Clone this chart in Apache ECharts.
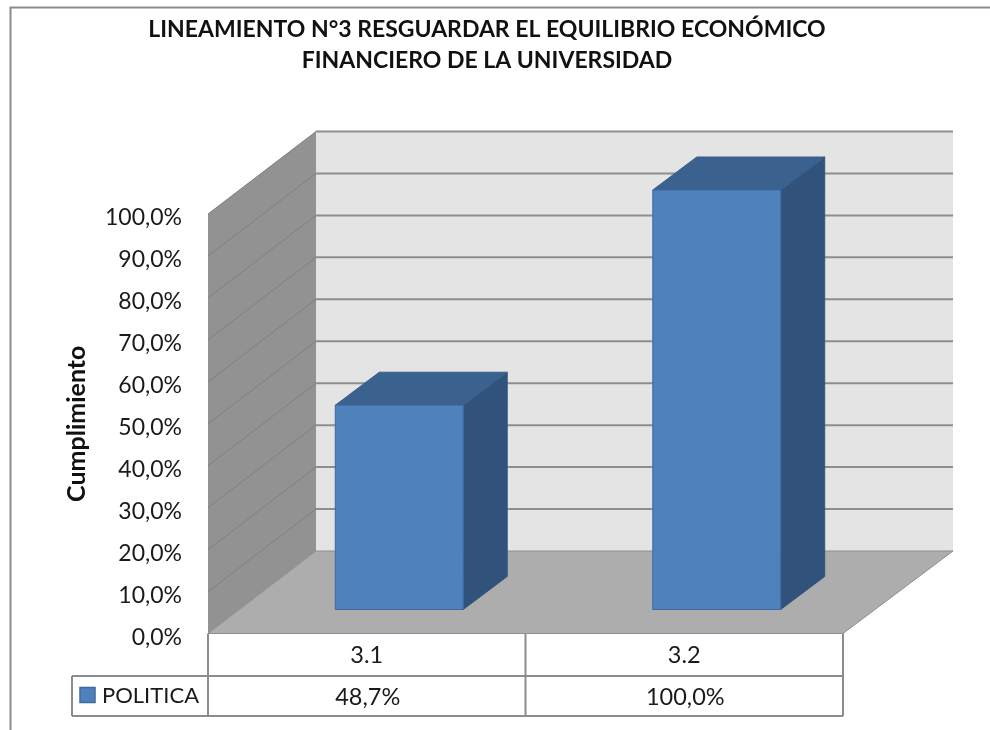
<!DOCTYPE html>
<html>
<head>
<meta charset="utf-8">
<style>
	html, body { margin: 0; padding: 0; background: #fff; }
	#chart { width: 990px; height: 730px; }
</style>
<script src="https://cdn.jsdelivr.net/npm/echarts@6/dist/echarts.min.js"></script>
</head>
<body>
<div id="chart"></div>
<script>
var categories = [ '3.1', '3.2' ];
var politicaValues = [ 48.7, 100 ];
var valueLabels = [ '48,7%', '100,0%' ];
var tickValues = [ 0, 10, 20, 30, 40, 50, 60, 70, 80, 90, 100 ];
var tickLabels = [ '0,0%', '10,0%', '20,0%', '30,0%', '40,0%', '50,0%', '60,0%', '70,0%', '80,0%', '90,0%', '100,0%' ];
var seriesName = 'POLITICA';
var titleLines = [ 'LINEAMIENTO N°3 RESGUARDAR EL EQUILIBRIO ECONÓMICO', 'FINANCIERO DE LA UNIVERSIDAD' ];
var axisTitle = 'Cumplimiento';

var FONT = 'Lato';
var LINE = '#8c8c8c';
// desplazamiento de la pared del fondo
var DEPTH_LEFT = 108;
var DEPTH_RIGHT = 110;
var DEPTH_Y = -82.5;

function poly(points, fill, stroke) {
	return {
		type : 'polygon',
		shape : { points : points },
		style : { fill : fill, stroke : stroke || null, lineWidth : 1 }
	};
}
function line(x1, y1, x2, y2, color, width) {
	return {
		type : 'line',
		shape : { x1 : x1, y1 : y1, x2 : x2, y2 : y2 },
		style : { stroke : color, lineWidth : width || 2 }
	};
}

// paredes y piso
function renderWalls(params, api) {
	var left = params.coordSys.x;
	var right = left + params.coordSys.width;
	var base = api.coord([ 0, 0 ])[1];
	var top = api.coord([ 0, 100 ])[1];
	var backLeft = left + DEPTH_LEFT;
	var backRight = right + DEPTH_RIGHT;
	var children = [];
	children.push(poly([ [ backLeft, top + DEPTH_Y ], [ backRight, top + DEPTH_Y ], [ backRight, base + DEPTH_Y ], [ backLeft, base + DEPTH_Y ] ], '#e4e4e4'));
	children.push(poly([ [ left, top ], [ backLeft, top + DEPTH_Y ], [ backLeft, base + DEPTH_Y ], [ left, base ] ], '#929292'));
	tickValues.forEach(function(v) {
		var y = api.coord([ 0, v ])[1];
		if (v > 0) {
			children.push(line(backLeft, y + DEPTH_Y, backRight, y + DEPTH_Y, '#8e8e8e', 2));
			children.push(line(left, y, backLeft, y + DEPTH_Y, '#808080', 1));
		}
	});
	children.push(poly([ [ left, base ], [ backLeft, base + DEPTH_Y ], [ backRight, base + DEPTH_Y ], [ right, base ] ], '#adadad', '#8f8f8f'));
	return { type : 'group', children : children };
}

// barras 3D
function renderBar(params, api) {
	var pos = api.coord([ api.value(0), 0 ]);
	var topPos = api.coord([ api.value(0), api.value(1) ]);
	var band = api.size([ 1, 0 ])[0];
	var width = band * 0.403;
	var x1 = pos[0] - width / 2 + 32.5;
	var x2 = x1 + width;
	var dy = -24;
	var y1 = pos[1] + dy;
	var y2 = topPos[1] + dy;
	var ox = 44;
	var oy = -33;
	return {
		type : 'group',
		children : [
			poly([ [ x2, y2 ], [ x2 + ox, y2 + oy ], [ x2 + ox, y1 + oy ], [ x2, y1 ] ], '#30527b', '#335880'),
			poly([ [ x1, y2 ], [ x1 + ox, y2 + oy ], [ x2 + ox, y2 + oy ], [ x2, y2 ] ], '#3b618f', '#3a5f8c'),
			poly([ [ x1, y2 ], [ x2, y2 ], [ x2, y1 ], [ x1, y1 ] ], '#4f81bd', '#3f6a9e')
		]
	};
}

// tabla de datos bajo el eje
function renderTable(params, api) {
	var sys = params.coordSys;
	var left = sys.x;
	var right = sys.x + sys.width;
	var y0 = api.coord([ 0, 0 ])[1];
	var y1 = y0 + 42.5;
	var y2 = y0 + 82.5;
	var legendLeft = left - 136;
	var mid = api.coord([ 0, 0 ])[0] + api.size([ 1, 0 ])[0] / 2;
	var children = [
		line(left, y0, left, y2, LINE),
		line(mid, y0, mid, y2, LINE),
		line(right, y0, right, y2, LINE),
		line(legendLeft, y1, right, y1, LINE),
		line(legendLeft, y2, right, y2, LINE),
		line(legendLeft, y1, legendLeft, y2, LINE),
		{
			type : 'rect',
			shape : { x : legendLeft + 8, y : y1 + 11.5, width : 15, height : 15 },
			style : { fill : '#4f81bd', stroke : '#3f6a9e', lineWidth : 1.5 }
		},
		{
			type : 'text',
			style : { text : seriesName, x : legendLeft + 30, y : (y1 + y2) / 2, fill : '#1a1a1a', font : '22px ' + FONT, verticalAlign : 'middle', align : 'left' }
		}
	];
	categories.forEach(function(c, i) {
		var x = api.coord([ i, 0 ])[0];
		children.push({
			type : 'text',
			style : { text : c, x : x, y : (y0 + y1) / 2 + 1, fill : '#1a1a1a', font : '23.5px ' + FONT, verticalAlign : 'middle', align : 'center' }
		});
		children.push({
			type : 'text',
			style : { text : valueLabels[i], x : x + 1, y : (y1 + y2) / 2 + 1, fill : '#1a1a1a', font : '23.5px ' + FONT, verticalAlign : 'middle', align : 'center' }
		});
	});
	return { type : 'group', children : children };
}

var barData = [];
for (var i = 0; i < categories.length; i++) {
	barData.push([ i, politicaValues[i] ]);
}

var options = {
	animation : false,
	backgroundColor : '#ffffff',
	textStyle : { fontFamily : FONT },
	title : {
		text : titleLines.join('\n'),
		left : 482,
		top : 9,
		textAlign : 'center',
		textStyle : { fontFamily : FONT, fontSize : 23, fontWeight : 'bold', color : '#111111', lineHeight : 31 }
	},
	grid : { left : 208, right : 147, top : 214, bottom : 96.5 },
	xAxis : {
		type : 'category',
		data : categories,
		axisLine : { show : false },
		axisTick : { show : false },
		axisLabel : { show : false }
	},
	yAxis : {
		type : 'value',
		min : 0,
		max : 100,
		interval : 10,
		name : axisTitle,
		nameLocation : 'middle',
		nameGap : 119,
		nameTextStyle : { fontFamily : FONT, fontSize : 25, fontWeight : 'bold', color : '#111111' },
		axisLine : { show : false },
		axisTick : { show : false },
		splitLine : { show : false },
		axisLabel : {
			margin : 26,
			formatter : function(value, index) {
				return '{v|' + tickLabels[index] + '}';
			},
			rich : {
				v : {
					fontFamily : FONT,
					fontSize : 23,
					color : '#1a1a1a',
					padding : [ 8, 0, 0, 0 ]
				}
			}
		}
	},
	graphic : [ {
		type : 'polyline',
		shape : { points : [ [ 10.5, 730 ], [ 10.5, 7.5 ], [ 990, 7.5 ] ] },
		style : { fill : null, stroke : '#8c8c8c', lineWidth : 2 },
		z : 0
	} ],
	series : [ {
		type : 'custom',
		coordinateSystem : 'cartesian2d',
		clip : false,
		silent : true,
		z : 1,
		data : [ [ 0, 0 ] ],
		renderItem : renderWalls
	}, {
		type : 'custom',
		name : seriesName,
		coordinateSystem : 'cartesian2d',
		clip : false,
		z : 2,
		data : barData,
		encode : { x : 0, y : 1 },
		renderItem : renderBar
	}, {
		type : 'custom',
		coordinateSystem : 'cartesian2d',
		clip : false,
		silent : true,
		z : 3,
		data : [ [ 0, 0 ] ],
		renderItem : renderTable
	} ]
};

var chart = echarts.init(document.getElementById('chart'));
chart.setOption(options);
</script>
</body>
</html>
